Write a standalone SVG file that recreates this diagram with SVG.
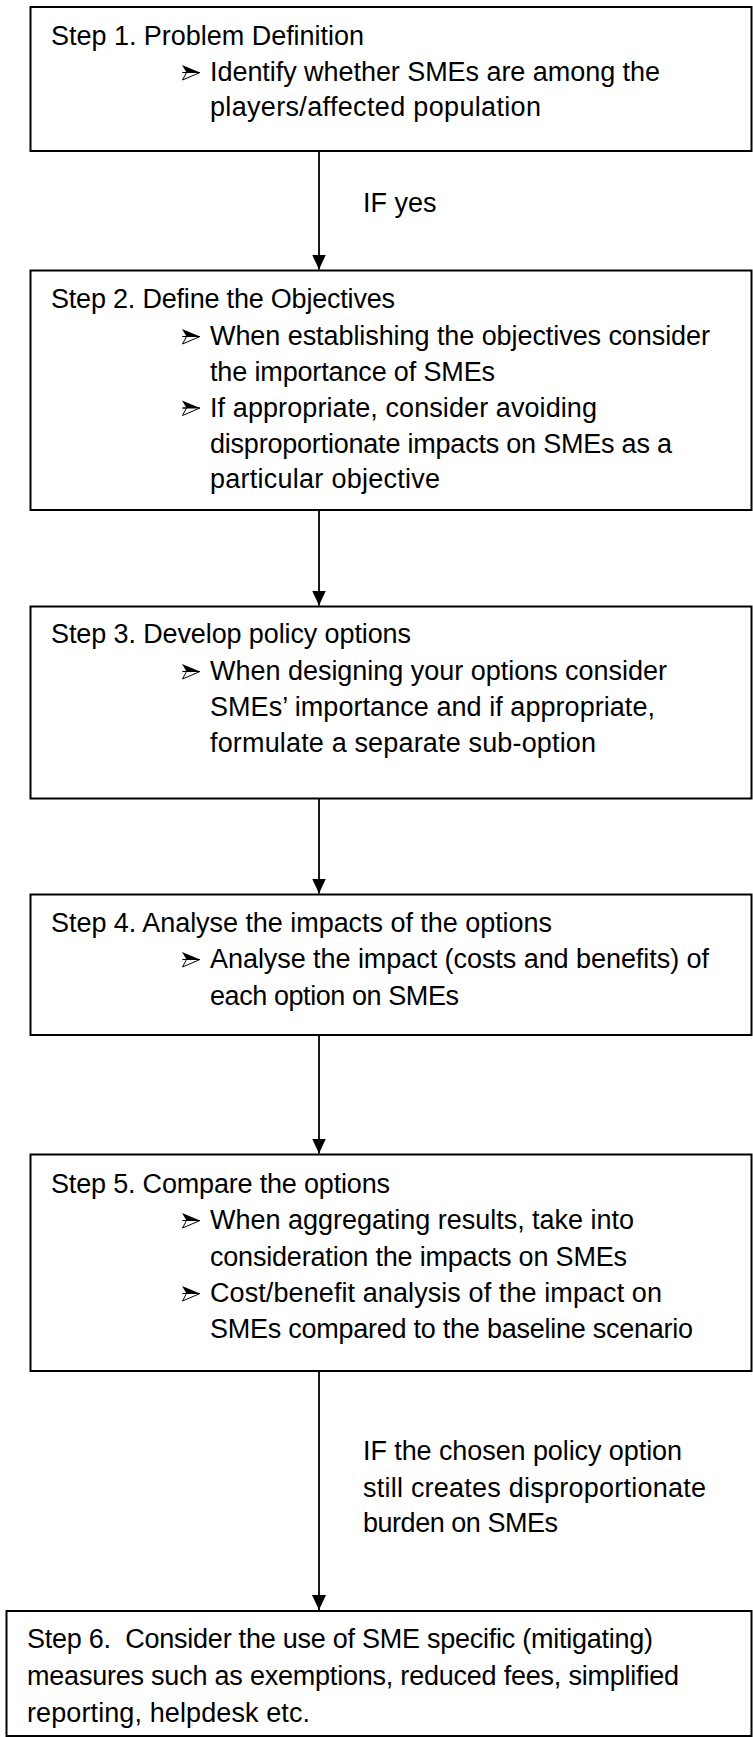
<svg xmlns="http://www.w3.org/2000/svg" width="753" height="1737" viewBox="0 0 753 1737">
<style>
  .box { fill: #ffffff; stroke: #000000; stroke-width: 2; }
  .t { font-family: "Liberation Sans", Arial, sans-serif; font-size: 27px; fill: #000000; white-space: pre; }
  .conn { stroke: #000000; stroke-width: 1.8; fill: none; marker-end: url(#arrow); }
  .bl-top { fill: #000000; }
  .bl-bot { fill: #ffffff; stroke: #000000; stroke-width: 1; stroke-linejoin: round; }
</style>
<defs>
  <marker id="arrow" markerUnits="userSpaceOnUse" markerWidth="15" markerHeight="14" viewBox="0 0 15 14" refX="15" refY="7" orient="auto">
    <path d="M0,0 L15,7 L0,14 z" fill="#000000"/>
  </marker>
  <g id="bullet">
    <path class="bl-bot" d="M0.5,0 L18,0 L0.5,7.5 L4.5,0 z"/>
    <path class="bl-top" d="M0,-7.5 L18,0 L4.5,0 z"/>
  </g>
</defs>
<rect width="753" height="1737" fill="#ffffff"/>

<g id="connectors">
  <line class="conn" x1="319" y1="151" x2="319" y2="269.5"/>
  <line class="conn" x1="319" y1="510" x2="319" y2="605.5"/>
  <line class="conn" x1="319" y1="798.5" x2="319" y2="893.5"/>
  <line class="conn" x1="319" y1="1035" x2="319" y2="1153.5"/>
  <line class="conn" x1="319" y1="1371" x2="319" y2="1610"/>
  <text class="t" x="363" y="212">IF yes</text>
  <text class="t" x="363" y="1460" textLength="319">IF the chosen policy option</text>
  <text class="t" x="363" y="1496.5" textLength="343">still creates disproportionate</text>
  <text class="t" x="363" y="1531.5" textLength="195">burden on SMEs</text>
</g>

<g id="step1">
  <rect class="box" x="30.5" y="7" width="721" height="144"/>
  <text class="t" x="51" y="45" textLength="313">Step 1. Problem Definition</text>
  <use href="#bullet" x="182" y="72.5"/>
  <text class="t" x="210" y="81" textLength="450">Identify whether SMEs are among the</text>
  <text class="t" x="210" y="116" textLength="331">players/affected population</text>
</g>

<g id="step2">
  <rect class="box" x="30.5" y="270.5" width="721" height="239.5"/>
  <text class="t" x="51" y="308" textLength="344">Step 2. Define the Objectives</text>
  <use href="#bullet" x="182" y="336.5"/>
  <text class="t" x="210" y="345" textLength="500">When establishing the objectives consider</text>
  <text class="t" x="210" y="380.5" textLength="285">the importance of SMEs</text>
  <use href="#bullet" x="182" y="408"/>
  <text class="t" x="210" y="416.5" textLength="387">If appropriate, consider avoiding</text>
  <text class="t" x="210" y="452.5" textLength="462">disproportionate impacts on SMEs as a</text>
  <text class="t" x="210" y="488" textLength="230">particular objective</text>
</g>

<g id="step3">
  <rect class="box" x="30.5" y="606.5" width="721" height="192"/>
  <text class="t" x="51" y="643" textLength="360">Step 3. Develop policy options</text>
  <use href="#bullet" x="182" y="671.5"/>
  <text class="t" x="210" y="680" textLength="457">When designing your options consider</text>
  <text class="t" x="210" y="716" textLength="445">SMEs’ importance and if appropriate,</text>
  <text class="t" x="210" y="751.5" textLength="386">formulate a separate sub-option</text>
</g>

<g id="step4">
  <rect class="box" x="30.5" y="894.5" width="721" height="140.5"/>
  <text class="t" x="51" y="931.5" textLength="501">Step 4. Analyse the impacts of the options</text>
  <use href="#bullet" x="182" y="959.5"/>
  <text class="t" x="210" y="968" textLength="499">Analyse the impact (costs and benefits) of</text>
  <text class="t" x="210" y="1004.5" textLength="249">each option on SMEs</text>
</g>

<g id="step5">
  <rect class="box" x="30.5" y="1154.5" width="721" height="216.5"/>
  <text class="t" x="51" y="1192.5" textLength="339">Step 5. Compare the options</text>
  <use href="#bullet" x="182" y="1220.5"/>
  <text class="t" x="210" y="1229" textLength="424">When aggregating results, take into</text>
  <text class="t" x="210" y="1265.5" textLength="417">consideration the impacts on SMEs</text>
  <use href="#bullet" x="182" y="1293.5"/>
  <text class="t" x="210" y="1302" textLength="452">Cost/benefit analysis of the impact on</text>
  <text class="t" x="210" y="1337.5" textLength="483">SMEs compared to the baseline scenario</text>
</g>

<g id="step6">
  <rect class="box" x="6.5" y="1611" width="745" height="125"/>
  <text class="t" x="27" y="1648" textLength="626">Step 6.  Consider the use of SME specific (mitigating)</text>
  <text class="t" x="27" y="1685" textLength="652">measures such as exemptions, reduced fees, simplified</text>
  <text class="t" x="27" y="1721.5" textLength="283">reporting, helpdesk etc.</text>
</g>
</svg>
